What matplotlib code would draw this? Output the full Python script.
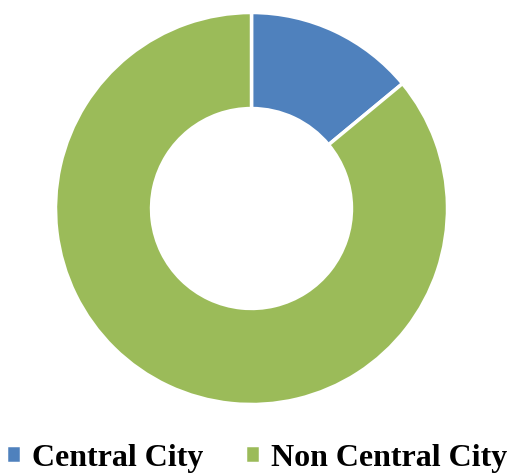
import matplotlib.pyplot as plt

# data
labels = ["Central City", "Non Central City"]
shares = [14, 86]
colors = ["#4F81BD", "#9BBB59"]

fig = plt.figure(figsize=(5.10, 4.74), dpi=100)
ax = fig.add_axes([251.5 / 510 - 196 / 510, 1 - (208.5 + 196) / 474, 392 / 510, 392 / 474])

wedges, _ = ax.pie(shares, colors=colors, startangle=90, counterclock=False,
                   radius=1.0,
                   wedgeprops=dict(width=0.49, edgecolor="white", linewidth=2.5))
ax.set_aspect("equal")
ax.set_xlim(-1, 1)
ax.set_ylim(-1, 1)

fig.legend(wedges, labels, loc="lower center", bbox_to_anchor=(0.503, -0.058),
           ncol=2, frameon=False, handlelength=0.48, handleheight=0.48,
           handletextpad=0.33, columnspacing=1.3,
           prop=dict(family="Liberation Serif", weight="bold", size=23))

fig.savefig("out.png", dpi=100, facecolor="white")
